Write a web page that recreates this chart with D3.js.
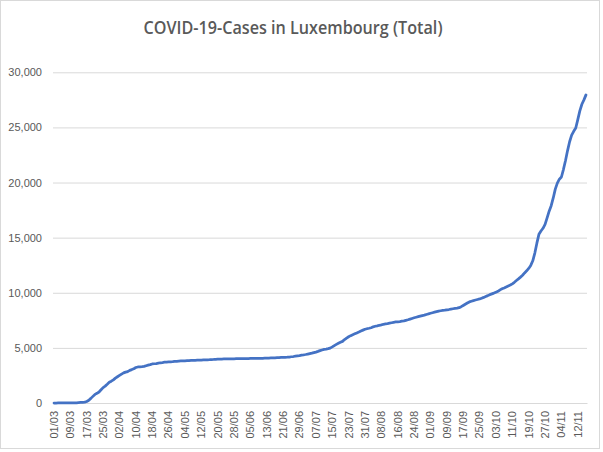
<!DOCTYPE html>
<html>
<head>
<meta charset="utf-8">
<script src="https://cdn.jsdelivr.net/npm/d3@7.9.0/dist/d3.min.js"></script>
<style>
  body { margin: 0; background: #fff; }
  svg { display: block; }
  .tick text { font-family: "Liberation Sans", Arial, sans-serif; font-size: 11px; fill: #595959; }
</style>
</head>
<body>
<svg width="603" height="452"></svg>
<script>
// cumulative cases per day (01/03 to 16/11)
const march = [0,0,1,1,1,2,3,3,4,5,7,19,34,51,59,81,140,250,420,600,780,880,1000,1200,1400,1530,1700,1880,1980,2100,2260];
const april = [2380,2500,2620,2730,2800,2850,2960,3030,3110,3220,3270,3285,3300,3320,3380,3440,3480,3540,3560,3580,3620,3650,3670,3700,3715,3725,3735,3750,3770,3785];
const may = [3800,3812,3824,3828,3840,3851,3859,3871,3877,3886,3888,3894,3904,3915,3923,3930,3945,3947,3958,3971,3981,3990,3993,3995,3995,4001,4008,4012,4016,4018,4019];
const june = [4020,4027,4032,4035,4040,4042,4043,4046,4049,4052,4055,4063,4068,4078,4085,4093,4100,4114,4120,4133,4140,4145,4154,4170,4195,4216,4256,4281,4299,4345];
const july = [4370,4400,4440,4480,4520,4570,4620,4680,4750,4810,4860,4890,4930,4980,5090,5210,5320,5420,5510,5590,5760,5890,6010,6110,6200,6280,6360,6440,6530,6610,6690];
const august = [6740,6780,6830,6910,6960,7000,7050,7090,7140,7170,7200,7240,7280,7320,7350,7370,7390,7420,7450,7500,7550,7610,7670,7730,7780,7830,7880,7930,7970,8030,8080];
const september = [8140,8190,8240,8290,8340,8370,8400,8420,8450,8480,8520,8550,8580,8610,8650,8740,8850,8960,9070,9170,9230,9290,9340,9390,9440,9510,9580,9660,9740,9830];
const october = [9900,9970,10050,10130,10260,10360,10440,10530,10620,10700,10810,10950,11110,11260,11420,11590,11800,11990,12210,12480,12900,13600,14500,15300,15600,15850,16200,16800,17400,17900,18600];
const november = [19400,19950,20300,20500,21200,22000,22900,23700,24300,24650,24950,25700,26500,27100,27500,27950];

const xTickLabels = ['01/03','09/03','17/03','25/03','02/04','10/04','18/04','26/04','04/05','12/05','20/05','28/05',
  '05/06','13/06','21/06','29/06','07/07','15/07','23/07','31/07','08/08','16/08','24/08','01/09','09/09','17/09',
  '25/09','03/10','11/10','19/10','27/10','04/11','12/11'];
const yTicks = [0, 5000, 10000, 15000, 20000, 25000, 30000];

const cases = [].concat(march, april, may, june, july, august, september, october, november);
const fmtDay = d3.timeFormat('%d/%m');
const days = d3.timeDay.range(new Date(2020, 2, 1), new Date(2020, 10, 17)).map(fmtDay);

const svg = d3.select('svg');

// chart frame
svg.append('rect')
  .attr('x', 0.5).attr('y', 0.5)
  .attr('width', 599).attr('height', 448)
  .attr('fill', '#fff')
  .attr('stroke', '#d9d9d9');

const plotLeft = 53, plotRight = 587, plotBottom = 403, plotTop = 72.3;

let x = d3.scaleBand().domain(days).range([plotLeft, plotRight]);
let y = d3.scaleLinear().domain([0, 30000]).range([plotBottom, plotTop]);

// y axis + gridlines
let yAxis = svg.append('g')
  .attr('transform', `translate(${plotLeft},0)`)
  .call(d3.axisLeft(y).tickValues(yTicks).tickSize(-(plotRight - plotLeft)).tickPadding(11).tickFormat(d3.format(',')));
yAxis.select('.domain').remove();
yAxis.selectAll('.tick line').attr('stroke', '#d9d9d9').attr('stroke-width', 1);

// x axis, rotated labels
let xAxis = svg.append('g')
  .attr('transform', `translate(0,${plotBottom})`)
  .call(d3.axisBottom(x).tickValues(xTickLabels).tickSize(0));
xAxis.select('.domain').attr('stroke', '#d9d9d9');
xAxis.selectAll('.tick text')
  .attr('transform', 'rotate(-90)')
  .attr('text-anchor', 'end')
  .attr('x', -8)
  .attr('y', 0)
  .attr('dy', '0.35em');

// the line
let line = d3.line()
  .x((d, i) => x(days[i]) + x.bandwidth() / 2)
  .y((d) => y(d));

svg.append('path')
  .datum(cases)
  .attr('d', line)
  .attr('fill', 'none')
  .attr('stroke', '#4472C4')
  .attr('stroke-width', 2.75)
  .attr('stroke-linejoin', 'round')
  .attr('stroke-linecap', 'round');

// title
svg.append('text')
  .attr('x', 293)
  .attr('y', 33.5)
  .attr('text-anchor', 'middle')
  .attr('textLength', 299)
  .attr('lengthAdjust', 'spacingAndGlyphs')
  .style('font-family', '"Open Sans", sans-serif')
  .style('font-size', '18px')
  .style('font-weight', 600)
  .style('fill', '#595959')
  .text('COVID-19-Cases in Luxembourg (Total)');
</script>
</body>
</html>
